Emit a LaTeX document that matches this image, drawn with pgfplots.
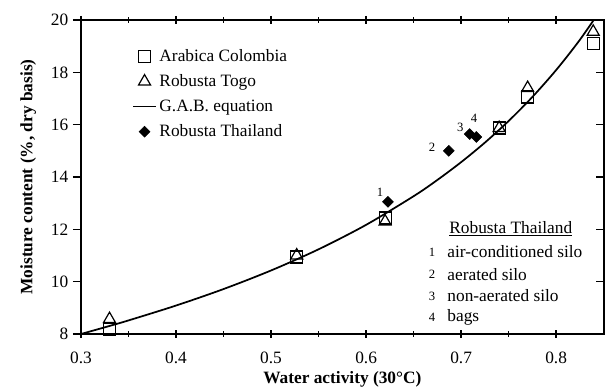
\documentclass[border=0pt]{standalone}
\usepackage{pgfplots}
\pgfplotsset{compat=1.18}
\usepackage{fontspec}
\setmainfont{Liberation Serif}
\begin{document}
\begin{tikzpicture}
\begin{axis}[
  scale only axis, width=392pt, height=235.5pt,
  xmin=0.3, xmax=0.85, ymin=8, ymax=20,
  xtick={0.3,0.4,0.5,0.6,0.7,0.8},
  ytick={8,10,12,14,16,18,20},
  minor x tick num=1,
  axis line style={line width=1.5pt},
  tick style={line width=1.2pt, black},
  tick align=center,
  major tick length=6pt, minor tick length=4pt,
  y tick style={xshift=-3pt},
  xticklabel style={/pgf/number format/fixed, /pgf/number format/precision=1, yshift=-7pt},
  yticklabel style={xshift=-3pt},
  /pgf/number format/assume math mode=true,
  tick label style={font=\fontsize{13}{15}\selectfont},
  xlabel={\textbf{Water activity (30°C)}},
  ylabel={\textbf{Moisture content (\%, dry basis)}},
  label style={font=\fontsize{13}{15}\selectfont},
  xlabel style={at={(axis description cs:0.5,-0.146)}, anchor=center},
  ylabel style={at={(axis description cs:-0.101,0.5)}, anchor=center},
  legend style={draw=none, fill=none, at={(rel axis cs:0.09,0.925)}, anchor=north west,
    font=\fontsize{13}{15}\selectfont, row sep=4.5pt},
  legend cell align=left,
  clip=true,
]
\addplot[only marks, mark=square, mark size=4.5pt, mark options={line width=0.9pt}] coordinates {
 (0.33,8.19) (0.527,10.94) (0.62,12.43) (0.74,15.87) (0.77,17.06) (0.839,19.1)};
\addlegendentry{Arabica Colombia}
\addplot[only marks, mark=triangle, mark size=5.2pt, mark options={line width=0.9pt}] coordinates {
 (0.33,8.57) (0.527,11.0) (0.62,12.3) (0.74,15.87) (0.77,17.4) (0.839,19.55)};
\addlegendentry{Robusta Togo}
\addplot[no marks, smooth, line width=1.3pt] coordinates {
 (0.30,8.000) (0.33,8.307) (0.35,8.519) (0.40,9.087) (0.45,9.718) (0.50,10.428)
 (0.55,11.237) (0.60,12.171) (0.65,13.266) (0.675,13.887) (0.70,14.567) (0.725,15.314)
 (0.75,16.141) (0.775,17.060) (0.80,18.088) (0.825,19.245) (0.85,20.558)};
\addlegendentry{G.A.B. equation}
\addplot[only marks, mark=square*, mark size=2.9pt, mark options={rotate=45}] coordinates {
 (0.623,13.05) (0.687,15.0) (0.709,15.64) (0.716,15.53)};
\addlegendentry{Robusta Thailand}
\node[font=\fontsize{9.5}{11}\selectfont] at (axis cs:0.6147,13.43) {1};
\node[font=\fontsize{9.5}{11}\selectfont] at (axis cs:0.6695,15.15) {2};
\node[font=\fontsize{9.5}{11}\selectfont] at (axis cs:0.699,15.91) {3};
\node[font=\fontsize{9.5}{11}\selectfont] at (axis cs:0.7137,16.26) {4};
\node[anchor=west, font=\fontsize{13}{15}\selectfont, inner sep=0pt] at (axis cs:0.6874,12.01) {\underline{Robusta Thailand}};
\node[font=\fontsize{9.5}{11}\selectfont] at (axis cs:0.6695,11.135) {1};
\node[font=\fontsize{9.5}{11}\selectfont] at (axis cs:0.6695,10.29) {2};
\node[font=\fontsize{9.5}{11}\selectfont] at (axis cs:0.6695,9.45) {3};
\node[font=\fontsize{9.5}{11}\selectfont] at (axis cs:0.6695,8.65) {4};
\node[anchor=west, font=\fontsize{13}{15}\selectfont, inner sep=0pt] at (axis cs:0.6853,11.135) {air-conditioned silo};
\node[anchor=west, font=\fontsize{13}{15}\selectfont, inner sep=0pt] at (axis cs:0.6853,10.29) {aerated silo};
\node[anchor=west, font=\fontsize{13}{15}\selectfont, inner sep=0pt] at (axis cs:0.6853,9.45) {non-aerated silo};
\node[anchor=west, font=\fontsize{13}{15}\selectfont, inner sep=0pt] at (axis cs:0.6853,8.65) {bags};
\end{axis}
\pgfresetboundingbox
\path[use as bounding box] (-60.75pt,-42.75pt) rectangle (393pt,250.5pt);
\end{tikzpicture}
\end{document}
